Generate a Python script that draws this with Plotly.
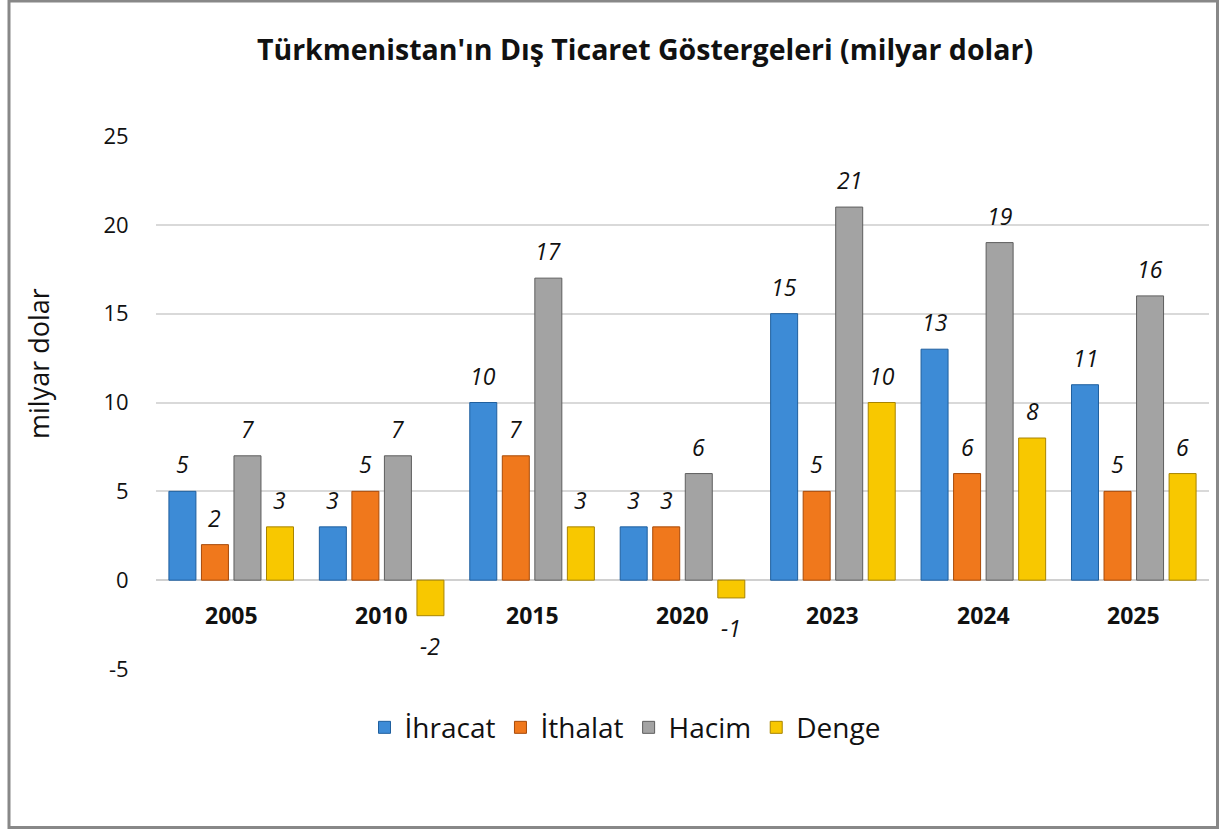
import plotly.graph_objects as go

years = ["2005", "2010", "2015", "2020", "2023", "2024", "2025"]
ihracat = [5, 3, 10, 3, 15, 13, 11]
ithalat = [2, 5, 7, 3, 5, 6, 5]
hacim = [7, 7, 17, 6, 21, 19, 16]
denge = [3, -2, 3, -1, 10, 8, 6]
y_ticks = [-5, 0, 5, 10, 15, 20, 25]

series = [
    ("İhracat", ihracat, "#3d8bd6", "#1f5f9e"),
    ("İthalat", ithalat, "#f0781c", "#a84a08"),
    ("Hacim", hacim, "#a3a3a3", "#5e5e5e"),
    ("Denge", denge, "#f8c800", "#a88400"),
]

FONT = "Open Sans"
xs = list(range(len(years)))

fig = go.Figure()
for name, vals, col, edge in series:
    fig.add_trace(go.Bar(
        x=xs, y=vals, name=name,
        marker=dict(color=col, line=dict(color=edge, width=1)),
    ))

annotations = []
slot = 0.216
for k, (name, vals, col, edge) in enumerate(series):
    for i, v in enumerate(vals):
        annotations.append(dict(
            x=i + (k - 1.5) * slot, y=v, xref="x", yref="y",
            text=f"<i>{v}</i>", showarrow=False,
            font=dict(family=FONT, size=23, color="#111111"),
            yshift=27 if v >= 0 else -30,
        ))
for i, yr in enumerate(years):
    annotations.append(dict(
        x=i, y=0, xref="x", yref="y", text=f"<b>{yr}</b>",
        showarrow=False, yshift=-35,
        font=dict(family=FONT, size=23, color="#111111"),
    ))
annotations.append(dict(
    x=(38 - 156) / 1053, y=(669 - 364) / 533, xref="paper", yref="paper",
    text="milyar dolar", textangle=-90, showarrow=False,
    xanchor="center", yanchor="middle",
    font=dict(family=FONT, size=27, color="#111111"),
))

fig.update_layout(
    width=1223, height=830,
    margin=dict(l=156, r=14, t=136, b=161),
    paper_bgcolor="white", plot_bgcolor="white",
    barmode="group", bargap=0.135, bargroupgap=0.17,
    title=dict(
        text="<b>Türkmenistan'ın Dış Ticaret Göstergeleri (milyar dolar)</b>",
        x=645 / 1223, xanchor="center", y=1 - 50 / 830, yanchor="middle",
        font=dict(family=FONT, size=28.5, color="#111111"),
    ),
    font=dict(family=FONT, color="#111111"),
    xaxis=dict(range=[-0.5, 6.5], showticklabels=False, showgrid=False,
               zeroline=False, showline=False, ticks=""),
    yaxis=dict(range=[-5, 25], tickvals=y_ticks, ticktext=[str(t) for t in y_ticks],
               showgrid=True, gridcolor="#d9d9d9", gridwidth=1.5,
               zeroline=True, zerolinecolor="#d0d0d0", zerolinewidth=1.5,
               tickfont=dict(family=FONT, size=22, color="#111111"),
               ticks="outside", ticklen=22, tickcolor="rgba(0,0,0,0)"),
    legend=dict(orientation="h", x=(625 - 156) / 1053, xanchor="center", y=-0.11,
                yanchor="middle", font=dict(family=FONT, size=28, color="#111111"),
                itemwidth=30, traceorder="normal"),
    annotations=annotations,
    shapes=[dict(type="rect", xref="paper", yref="paper",
                 x0=(9 - 156) / 1053, x1=(1217.5 - 156) / 1053,
                 y0=(669 - 827.5) / 533, y1=(669 - 1) / 533,
                 line=dict(color="#888888", width=3), layer="below")],
)

fig.write_html("out.html", config={"displayModeBar": False},
               post_script="document.body.style.margin='0';document.body.style.overflow='hidden';")
